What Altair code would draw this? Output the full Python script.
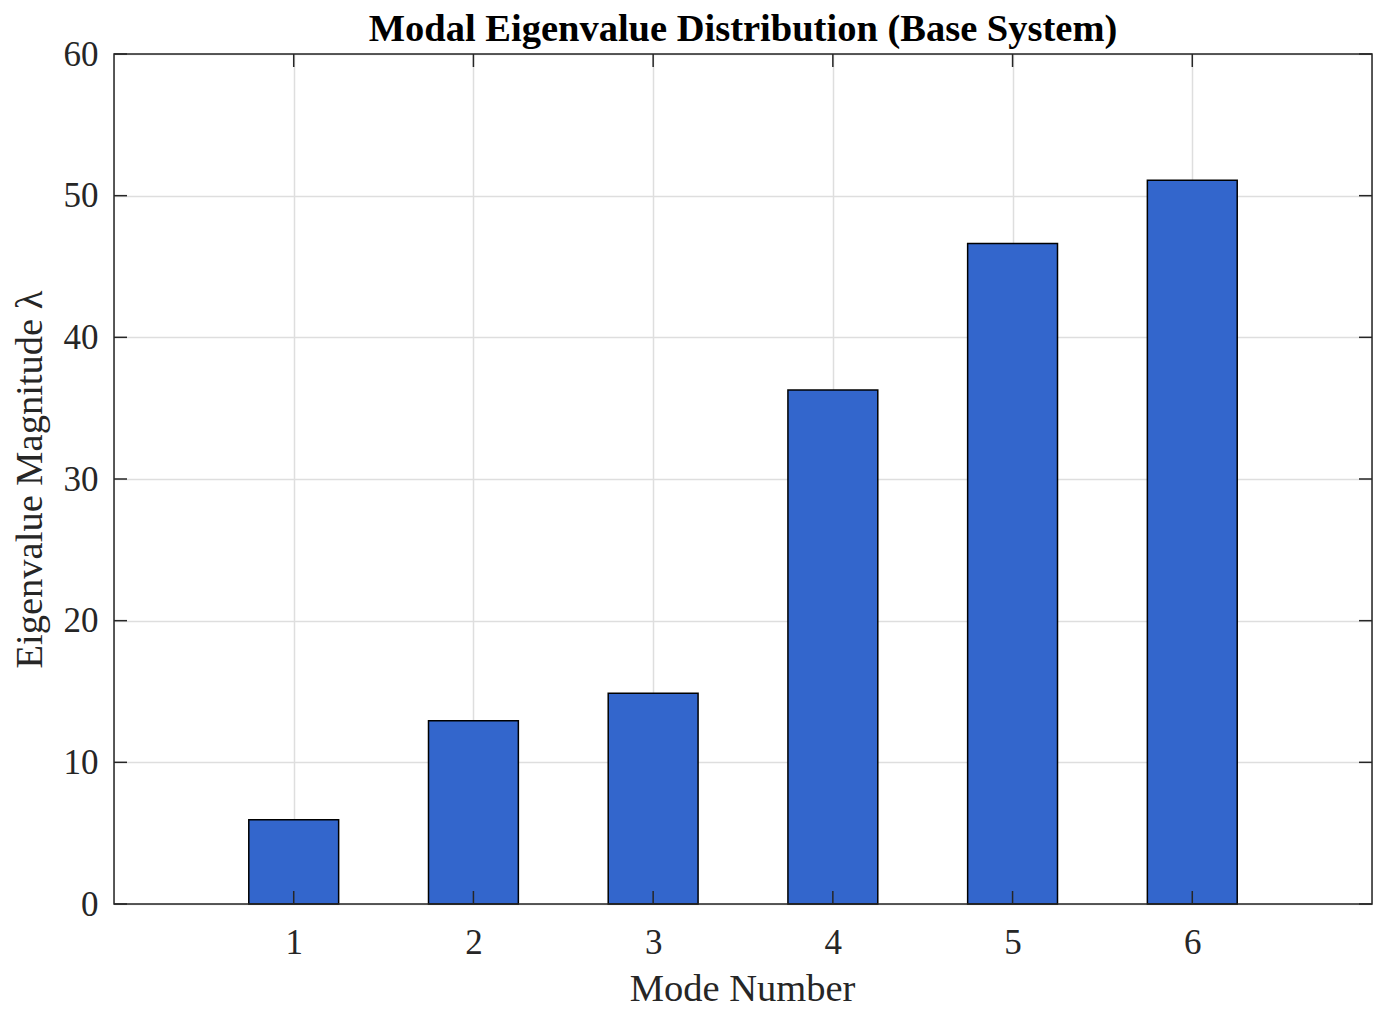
import altair as alt
import pandas as pd

# ---- data ----
modes = [1, 2, 3, 4, 5, 6]
eigenvalues = [5.95, 12.94, 14.87, 36.29, 46.62, 51.08]
x_ticks = [1, 2, 3, 4, 5, 6]
y_ticks = [0, 10, 20, 30, 40, 50, 60]

BAR_WIDTH = 0.5
W, H = 1258, 850
FONT = "Liberation Serif"
TXT = "#262626"
FRAME = "#262626"
GRID = "#dedede"
TICK_LEN = 13

bars_df = pd.DataFrame({"mode": modes, "value": eigenvalues})
xt_df = pd.DataFrame({"mode": x_ticks})
yt_df = pd.DataFrame({"value": y_ticks})

xscale = alt.Scale(domain=[0, 7], nice=False, zero=False)
yscale = alt.Scale(domain=[0, 60], nice=False)

x_axis = alt.Axis(
    values=x_ticks,
    title="Mode Number",
    grid=True,
    gridColor=GRID,
    gridWidth=1.5,
    ticks=False,
    tickSize=0,
    domain=False,
    labelFont=FONT,
    labelFontSize=35,
    labelColor=TXT,
    labelBaseline="alphabetic",
    labelPadding=49,
    titleFont=FONT,
    titleFontSize=38.5,
    titleFontWeight="normal",
    titleColor=TXT,
    titleBaseline="alphabetic",
    titleY=96,
    titleX=W / 2 - 1,
)
y_axis = alt.Axis(
    values=y_ticks,
    title="Eigenvalue Magnitude λ",
    grid=True,
    gridColor=GRID,
    gridWidth=1.5,
    ticks=False,
    tickSize=0,
    domain=False,
    labelFont=FONT,
    labelFontSize=35,
    labelColor=TXT,
    labelPadding=16,
    titleFont=FONT,
    titleFontSize=38.5,
    titleFontWeight="normal",
    titleColor=TXT,
    titleBaseline="alphabetic",
    titleAngle=270,
    titleX=-73,
    titleY=H / 2,
)

bars = (
    alt.Chart(bars_df)
    .transform_calculate(
        x0=f"datum.mode - {BAR_WIDTH / 2}", x1=f"datum.mode + {BAR_WIDTH / 2}"
    )
    .mark_bar(color="#3366CC", stroke="#000000", strokeWidth=1.5)
    .encode(
        x=alt.X("x0:Q", scale=xscale, axis=x_axis, title="Mode Number"),
        x2="x1:Q",
        y=alt.Y("value:Q", scale=yscale, axis=y_axis, title="Eigenvalue Magnitude λ"),
        y2=alt.datum(0),
    )
)

tick_style = dict(color=FRAME, thickness=1.5, size=TICK_LEN, opacity=1)

bottom_ticks = alt.Chart(xt_df).mark_tick(orient="vertical", **tick_style).encode(
    x=alt.X("mode:Q", scale=xscale, axis=x_axis, title="Mode Number"),
    y=alt.value(H - TICK_LEN / 2),
)
top_ticks = alt.Chart(xt_df).mark_tick(orient="vertical", **tick_style).encode(
    x=alt.X("mode:Q", scale=xscale, axis=x_axis, title="Mode Number"),
    y=alt.value(TICK_LEN / 2),
)
left_ticks = alt.Chart(yt_df).mark_tick(orient="horizontal", **tick_style).encode(
    y=alt.Y("value:Q", scale=yscale, axis=y_axis, title="Eigenvalue Magnitude λ"),
    x=alt.value(TICK_LEN / 2),
)
right_ticks = alt.Chart(yt_df).mark_tick(orient="horizontal", **tick_style).encode(
    y=alt.Y("value:Q", scale=yscale, axis=y_axis, title="Eigenvalue Magnitude λ"),
    x=alt.value(W - TICK_LEN / 2),
)

frame = alt.Chart(bars_df.head(1)).mark_rect(
    fillOpacity=0, stroke=FRAME, strokeWidth=1.5
).encode(
    x=alt.value(0), x2=alt.value(W), y=alt.value(0), y2=alt.value(H)
)

chart = (
    alt.layer(bars, bottom_ticks, top_ticks, left_ticks, right_ticks, frame)
    .properties(
        width=W,
        height=H,
        title=alt.TitleParams(
            "Modal Eigenvalue Distribution (Base System)",
            font=FONT,
            fontSize=38.5,
            fontWeight="bold",
            color="#000000",
            anchor="middle",
            frame="group",
            offset=-12,
        ),
        autosize=alt.AutoSizeParams(type="none"),
        padding={"left": 106, "top": 46, "right": 2, "bottom": 104},
    )
    .configure_view(stroke="transparent")
    .configure(background="#ffffff")
)

chart.save("out.html", embed_options={"renderer": "svg", "actions": False})
